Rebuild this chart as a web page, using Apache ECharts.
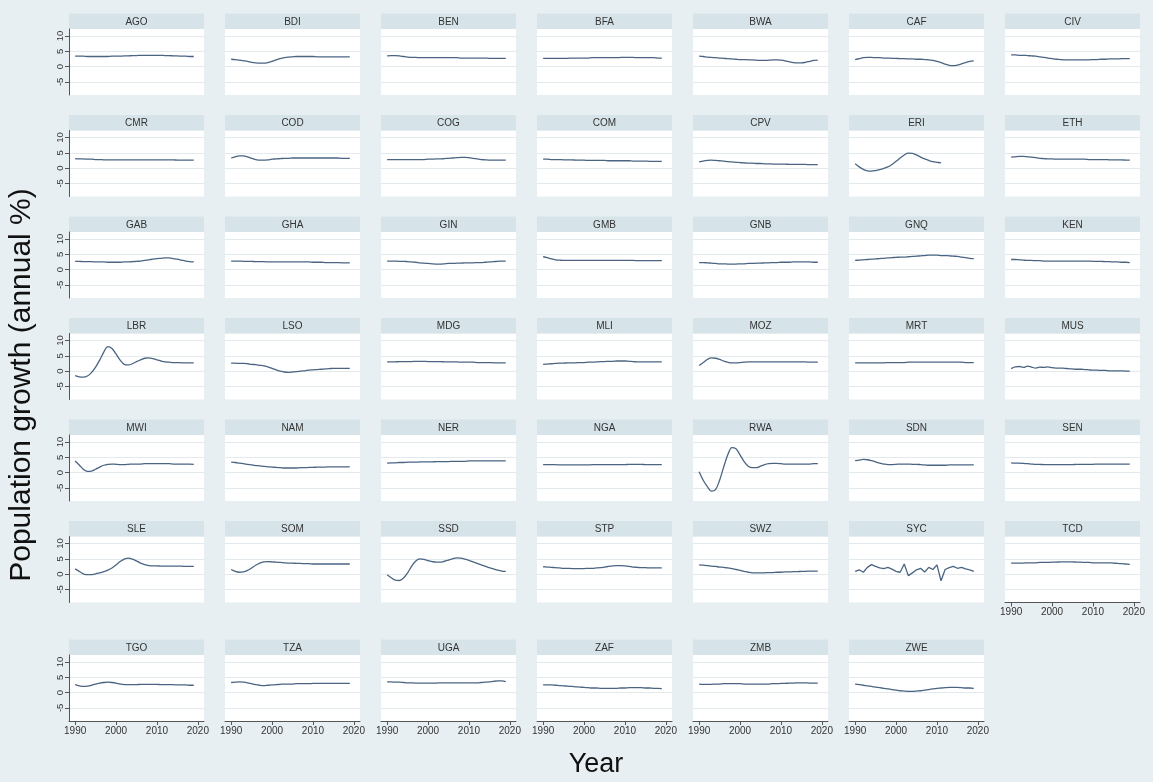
<!DOCTYPE html>
<html>
<head>
<meta charset="utf-8">
<script src="https://cdn.jsdelivr.net/npm/echarts@6/dist/echarts.min.js"></script>
<style>
  html, body { margin: 0; padding: 0; background: #e8eff2; }
  #chart { width: 1153px; height: 782px; }
</style>
</head>
<body>
<div id="chart"></div>
<script>
// Years on the x axis
const years = [1990, 1991, 1992, 1993, 1994, 1995, 1996, 1997, 1998, 1999,
               2000, 2001, 2002, 2003, 2004, 2005, 2006, 2007, 2008, 2009,
               2010, 2011, 2012, 2013, 2014, 2015, 2016, 2017, 2018, 2019];

// Panel order (ISO3 country codes)
const countries = ['AGO','BDI','BEN','BFA','BWA','CAF','CIV',
                   'CMR','COD','COG','COM','CPV','ERI','ETH',
                   'GAB','GHA','GIN','GMB','GNB','GNQ','KEN',
                   'LBR','LSO','MDG','MLI','MOZ','MRT','MUS',
                   'MWI','NAM','NER','NGA','RWA','SDN','SEN',
                   'SLE','SOM','SSD','STP','SWZ','SYC','TCD',
                   'TGO','TZA','UGA','ZAF','ZMB','ZWE'];

// Tick labels
const xTickValues = [1990, 2000, 2010, 2020];
const yTickValues = [-5, 0, 5, 10];

// Population growth (annual %), 1990-2019
const AGO = [3.4,3.4,3.4,3.3,3.3,3.3,3.3,3.3,3.3,3.4,3.4,3.4,3.5,3.5,3.6,3.6,3.7,3.7,3.7,3.7,3.7,3.7,3.6,3.6,3.5,3.5,3.4,3.4,3.3,3.3];
const BDI = [2.4,2.3,2.1,1.9,1.7,1.4,1.2,1.1,1.1,1.3,1.7,2.2,2.6,2.9,3.1,3.2,3.3,3.3,3.3,3.3,3.3,3.2,3.2,3.2,3.2,3.2,3.2,3.2,3.2,3.2];
const BEN = [3.5,3.6,3.6,3.5,3.3,3.1,3.0,3.0,2.9,2.9,2.9,2.9,2.9,2.9,2.9,2.9,2.9,2.9,2.8,2.8,2.8,2.8,2.8,2.8,2.8,2.7,2.7,2.7,2.7,2.7];
const BFA = [2.7,2.7,2.7,2.7,2.7,2.7,2.7,2.8,2.8,2.8,2.8,2.8,2.9,2.9,2.9,2.9,2.9,2.9,2.9,3.0,3.0,3.0,3.0,2.9,2.9,2.9,2.9,2.9,2.8,2.8];
const BWA = [3.4,3.3,3.1,3.0,2.9,2.8,2.7,2.6,2.5,2.4,2.3,2.3,2.2,2.2,2.1,2.0,2.0,2.1,2.2,2.2,2.1,1.9,1.6,1.3,1.2,1.2,1.4,1.7,2.0,2.1];
const CAF = [2.3,2.6,2.9,3.0,3.0,2.9,2.9,2.8,2.8,2.7,2.7,2.6,2.6,2.5,2.5,2.4,2.4,2.3,2.2,2.0,1.7,1.3,0.8,0.4,0.3,0.5,0.9,1.3,1.7,1.9];
const CIV = [3.8,3.8,3.7,3.7,3.6,3.5,3.4,3.2,3.0,2.8,2.6,2.4,2.3,2.2,2.2,2.2,2.2,2.2,2.2,2.2,2.3,2.3,2.4,2.4,2.5,2.5,2.5,2.6,2.6,2.6];
const CMR = [3.1,3.0,3.0,2.9,2.9,2.8,2.8,2.7,2.7,2.7,2.7,2.7,2.7,2.7,2.7,2.7,2.7,2.7,2.7,2.7,2.7,2.7,2.7,2.7,2.7,2.6,2.6,2.6,2.6,2.6];
const COD = [3.3,3.7,4.0,4.0,3.7,3.2,2.8,2.6,2.6,2.7,2.9,3.0,3.1,3.2,3.2,3.3,3.3,3.3,3.3,3.3,3.3,3.3,3.3,3.3,3.3,3.3,3.3,3.2,3.2,3.2];
const COG = [2.8,2.8,2.8,2.8,2.8,2.8,2.8,2.8,2.8,2.8,2.9,2.9,3.0,3.0,3.1,3.2,3.3,3.4,3.5,3.5,3.4,3.2,3.0,2.8,2.7,2.6,2.6,2.6,2.6,2.6];
const COM = [2.9,2.9,2.8,2.8,2.8,2.7,2.7,2.7,2.6,2.6,2.6,2.5,2.5,2.5,2.5,2.5,2.4,2.4,2.4,2.4,2.4,2.4,2.3,2.3,2.3,2.3,2.2,2.2,2.2,2.2];
const CPV = [2.0,2.3,2.5,2.6,2.5,2.4,2.3,2.1,2.0,1.9,1.8,1.7,1.6,1.6,1.5,1.5,1.4,1.4,1.3,1.3,1.3,1.3,1.2,1.2,1.2,1.2,1.2,1.1,1.1,1.1];
const ERI = [1.4,0.4,-0.4,-0.9,-1.0,-0.8,-0.5,-0.1,0.4,1.2,2.2,3.3,4.3,4.9,4.8,4.3,3.6,3.0,2.5,2.1,1.9,1.7,null,null,null,null,null,null,null,null];
const ETH = [3.6,3.7,3.8,3.8,3.7,3.6,3.4,3.2,3.1,3.0,3.0,2.9,2.9,2.9,2.9,2.9,2.9,2.9,2.9,2.8,2.8,2.8,2.8,2.8,2.7,2.7,2.7,2.7,2.6,2.6];
const GAB = [2.7,2.7,2.6,2.6,2.6,2.5,2.5,2.5,2.4,2.4,2.4,2.4,2.5,2.5,2.6,2.7,2.8,3.0,3.2,3.4,3.6,3.7,3.8,3.8,3.6,3.4,3.1,2.8,2.6,2.5];
const GHA = [2.8,2.8,2.8,2.7,2.7,2.7,2.6,2.6,2.6,2.5,2.5,2.5,2.5,2.5,2.5,2.5,2.5,2.5,2.5,2.5,2.4,2.4,2.4,2.3,2.3,2.3,2.3,2.2,2.2,2.2];
const GIN = [2.8,2.8,2.8,2.7,2.7,2.6,2.5,2.4,2.2,2.1,2.0,1.9,1.8,1.8,1.9,2.0,2.0,2.1,2.1,2.2,2.2,2.2,2.3,2.3,2.4,2.5,2.6,2.7,2.8,2.8];
const GMB = [4.2,3.9,3.5,3.2,3.1,3.0,3.0,3.0,3.0,3.0,3.0,3.0,3.0,3.0,3.0,3.0,3.0,3.0,3.0,3.0,3.0,3.0,3.0,2.9,2.9,2.9,2.9,2.9,2.9,2.9];
const GNB = [2.3,2.3,2.2,2.1,2.0,1.9,1.9,1.8,1.8,1.8,1.9,1.9,2.0,2.0,2.1,2.1,2.2,2.2,2.3,2.3,2.4,2.4,2.4,2.5,2.5,2.5,2.5,2.5,2.4,2.4];
const GNQ = [3.0,3.1,3.2,3.3,3.4,3.5,3.6,3.7,3.8,3.9,4.0,4.1,4.1,4.2,4.3,4.4,4.5,4.6,4.7,4.7,4.7,4.6,4.6,4.5,4.4,4.3,4.1,3.9,3.7,3.6];
const KEN = [3.3,3.3,3.2,3.1,3.0,3.0,2.9,2.9,2.8,2.8,2.8,2.8,2.8,2.8,2.8,2.8,2.8,2.8,2.8,2.8,2.7,2.7,2.7,2.6,2.6,2.5,2.5,2.4,2.4,2.3];
const LBR = [-1.5,-1.9,-2.0,-1.6,-0.5,1.3,3.6,6.2,8.0,7.4,5.6,3.6,2.2,2.0,2.4,3.1,3.7,4.2,4.3,4.1,3.7,3.3,3.0,2.9,2.8,2.8,2.7,2.7,2.7,2.7];
const LSO = [2.6,2.6,2.5,2.5,2.4,2.2,2.1,1.9,1.7,1.4,0.9,0.4,0.0,-0.3,-0.4,-0.3,-0.2,0.0,0.1,0.3,0.4,0.5,0.6,0.7,0.8,0.9,0.9,0.9,0.9,0.9];
const MDG = [3.0,3.0,3.0,3.1,3.1,3.1,3.1,3.2,3.2,3.2,3.1,3.1,3.1,3.1,3.0,3.0,3.0,3.0,2.9,2.9,2.9,2.9,2.8,2.8,2.8,2.8,2.7,2.7,2.7,2.7];
const MLI = [2.2,2.3,2.4,2.5,2.6,2.6,2.7,2.7,2.7,2.8,2.8,2.9,2.9,3.0,3.1,3.1,3.2,3.2,3.3,3.3,3.3,3.2,3.1,3.0,3.0,3.0,3.0,3.0,3.0,3.0];
const MOZ = [1.8,2.8,3.8,4.3,4.2,3.8,3.3,2.9,2.7,2.7,2.8,2.9,3.0,3.0,3.0,3.0,3.0,3.0,3.0,3.0,3.0,3.0,3.0,3.0,3.0,3.0,3.0,2.9,2.9,2.9];
const MRT = [2.7,2.7,2.7,2.7,2.7,2.7,2.7,2.7,2.8,2.8,2.8,2.8,2.8,2.9,2.9,2.9,2.9,2.9,2.9,2.9,2.9,2.9,2.9,2.9,2.9,2.9,2.9,2.8,2.8,2.8];
const MUS = [0.8,1.4,1.5,1.2,1.6,1.3,1.0,1.3,1.2,1.4,1.1,1.0,1.0,0.9,0.8,0.7,0.6,0.6,0.5,0.4,0.3,0.3,0.2,0.2,0.1,0.1,0.1,0.1,0.0,0.0];
const MWI = [3.8,2.5,1.1,0.4,0.5,1.1,1.8,2.4,2.7,2.8,2.7,2.6,2.6,2.7,2.8,2.8,2.8,2.9,2.9,2.9,2.9,2.9,2.9,2.9,2.8,2.8,2.8,2.8,2.8,2.7];
const NAM = [3.4,3.3,3.1,2.9,2.7,2.5,2.3,2.2,2.0,1.9,1.8,1.7,1.6,1.5,1.5,1.5,1.5,1.6,1.6,1.7,1.7,1.8,1.8,1.8,1.9,1.9,1.9,1.9,1.9,1.9];
const NER = [3.1,3.2,3.2,3.3,3.3,3.4,3.4,3.4,3.5,3.5,3.5,3.5,3.6,3.6,3.6,3.6,3.7,3.7,3.7,3.7,3.8,3.8,3.8,3.8,3.8,3.8,3.8,3.8,3.8,3.8];
const NGA = [2.6,2.6,2.6,2.6,2.5,2.5,2.5,2.5,2.5,2.5,2.5,2.5,2.6,2.6,2.6,2.6,2.6,2.6,2.6,2.6,2.6,2.7,2.7,2.7,2.7,2.6,2.6,2.6,2.6,2.6];
const RWA = [0.3,-2.5,-4.6,-6.1,-5.6,-2.5,1.8,5.8,8.2,7.8,5.8,3.6,2.1,1.6,1.6,2.1,2.6,2.9,3.0,3.0,2.9,2.8,2.8,2.8,2.8,2.8,2.8,2.8,2.9,2.9];
const SDN = [3.9,4.1,4.3,4.2,3.9,3.5,3.1,2.8,2.6,2.6,2.7,2.8,2.8,2.8,2.7,2.7,2.6,2.5,2.4,2.4,2.4,2.4,2.4,2.5,2.5,2.5,2.5,2.5,2.5,2.5];
const SEN = [3.2,3.1,3.1,3.0,2.9,2.8,2.7,2.7,2.6,2.6,2.6,2.6,2.6,2.6,2.6,2.6,2.7,2.7,2.7,2.7,2.7,2.8,2.8,2.8,2.8,2.8,2.8,2.8,2.8,2.8];
const SLE = [1.7,0.9,0.1,-0.2,-0.2,0.1,0.4,0.8,1.3,2.0,3.0,4.1,4.9,5.2,4.9,4.3,3.6,3.1,2.8,2.7,2.7,2.6,2.6,2.6,2.6,2.6,2.6,2.5,2.5,2.5];
const SOM = [1.5,0.9,0.6,0.7,1.2,2.0,2.9,3.6,4.0,4.1,4.0,3.9,3.8,3.7,3.6,3.6,3.5,3.5,3.4,3.4,3.3,3.3,3.3,3.3,3.3,3.3,3.3,3.3,3.3,3.3];
const SSD = [-0.2,-1.2,-2.0,-2.1,-1.3,0.4,2.6,4.3,5.0,4.8,4.4,4.1,3.9,3.9,4.2,4.6,5.0,5.3,5.2,4.9,4.5,4.0,3.5,3.0,2.5,2.1,1.7,1.3,1.0,0.9];
const STP = [2.4,2.3,2.2,2.1,2.0,1.9,1.9,1.8,1.8,1.8,1.8,1.9,1.9,2.0,2.1,2.3,2.5,2.7,2.8,2.8,2.7,2.5,2.3,2.2,2.1,2.1,2.0,2.0,2.0,2.0];
const SWZ = [3.0,2.9,2.8,2.6,2.5,2.3,2.2,2.0,1.8,1.5,1.2,0.9,0.6,0.4,0.4,0.4,0.4,0.5,0.5,0.6,0.6,0.7,0.7,0.8,0.8,0.9,0.9,1.0,1.0,1.0];
const SYC = [0.9,1.4,0.6,2.2,3.1,2.5,2.0,1.8,2.2,1.6,0.9,0.6,3.3,-0.5,0.4,1.4,1.9,0.7,2.2,1.5,3.0,-2.2,1.5,2.1,2.5,1.9,2.2,1.7,1.4,0.9];
const TCD = [3.6,3.6,3.6,3.6,3.7,3.7,3.7,3.8,3.8,3.8,3.9,3.9,4.0,4.0,4.0,4.0,3.9,3.9,3.8,3.8,3.7,3.7,3.7,3.7,3.7,3.6,3.5,3.4,3.3,3.2];
const TGO = [2.6,2.2,2.0,2.1,2.4,2.8,3.1,3.3,3.4,3.3,3.1,2.8,2.6,2.6,2.6,2.6,2.7,2.7,2.7,2.7,2.7,2.6,2.6,2.6,2.6,2.5,2.5,2.5,2.4,2.4];
const TZA = [3.3,3.4,3.5,3.4,3.2,2.9,2.6,2.4,2.3,2.4,2.5,2.6,2.7,2.8,2.8,2.8,2.9,2.9,2.9,2.9,3.0,3.0,3.0,3.0,3.0,3.0,3.0,3.0,3.0,3.0];
const UGA = [3.5,3.5,3.4,3.4,3.3,3.2,3.2,3.1,3.1,3.1,3.1,3.1,3.1,3.2,3.2,3.2,3.2,3.2,3.2,3.2,3.2,3.2,3.2,3.3,3.4,3.5,3.7,3.8,3.8,3.6];
const ZAF = [2.5,2.5,2.5,2.4,2.3,2.2,2.1,2.0,1.9,1.8,1.7,1.6,1.5,1.5,1.4,1.4,1.4,1.4,1.4,1.5,1.5,1.6,1.6,1.6,1.6,1.5,1.5,1.4,1.4,1.3];
const ZMB = [2.8,2.7,2.7,2.7,2.8,2.8,2.9,2.9,2.9,2.9,2.9,2.8,2.8,2.8,2.8,2.8,2.8,2.8,2.9,2.9,3.0,3.0,3.1,3.1,3.2,3.2,3.2,3.1,3.1,3.1];
const ZWE = [2.8,2.6,2.4,2.2,2.0,1.8,1.6,1.4,1.2,1.0,0.8,0.6,0.5,0.4,0.4,0.5,0.6,0.8,1.0,1.2,1.4,1.5,1.6,1.7,1.7,1.7,1.6,1.5,1.5,1.4];

const seriesByCountry = [AGO,BDI,BEN,BFA,BWA,CAF,CIV,
                         CMR,COD,COG,COM,CPV,ERI,ETH,
                         GAB,GHA,GIN,GMB,GNB,GNQ,KEN,
                         LBR,LSO,MDG,MLI,MOZ,MRT,MUS,
                         MWI,NAM,NER,NGA,RWA,SDN,SEN,
                         SLE,SOM,SSD,STP,SWZ,SYC,TCD,
                         TGO,TZA,UGA,ZAF,ZMB,ZWE];

// Panel layout
const nCols = 7;
const colLeft = 69, colStep = 156, panelW = 135;
const plotTops = [29, 130.5, 232, 333.5, 435, 536.5, 655];
const plotH = 66, stripH = 15.5;

const FONT = '"Liberation Sans", Arial, sans-serif';
const lineColor = '#4a6482';
const axisColor = '#555';

const grid = [], xAxis = [], yAxis = [], series = [], graphic = [];

countries.forEach((code, i) => {
  const row = Math.floor(i / nCols), col = i % nCols;
  const left = colLeft + col * colStep;
  const top = plotTops[row];
  const showX = i + nCols >= countries.length;   // no panel beneath
  const showY = col === 0;

  grid.push({
    left: left, top: top, width: panelW, height: plotH,
    show: true, backgroundColor: '#ffffff', borderWidth: 0
  });

  xAxis.push({
    type: 'value', gridIndex: i, min: 1988.5, max: 2021.5,
    axisLine: { show: showX, onZero: false, lineStyle: { color: axisColor, width: 1 } },
    axisTick: { show: showX, length: 4, customValues: xTickValues, lineStyle: { color: axisColor } },
    axisLabel: { show: showX, customValues: xTickValues, formatter: v => String(v),
                 fontSize: 10, color: '#333', margin: 5, fontFamily: FONT },
    splitLine: { show: false }
  });

  yAxis.push({
    type: 'value', gridIndex: i, min: -9.3, max: 12.3,
    axisLine: { show: showY, onZero: false, lineStyle: { color: axisColor, width: 1 } },
    axisTick: { show: showY, length: 4, customValues: yTickValues, lineStyle: { color: axisColor } },
    axisLabel: { show: showY, customValues: yTickValues, formatter: v => String(v), rotate: 90,
                 fontSize: 9.5, color: '#333', margin: 4, fontFamily: FONT },
    splitLine: { show: true, lineStyle: { color: '#e2eaee', width: 1 } }
  });

  series.push({
    type: 'line', xAxisIndex: i, yAxisIndex: i,
    data: years.map((yr, k) => [yr, seriesByCountry[i][k]]),
    showSymbol: false, connectNulls: false,
    smooth: code === 'SYC' ? false : 0.35,
    lineStyle: { color: lineColor, width: 1.3 },
    silent: true
  });

  // strip header with the country code
  graphic.push({
    type: 'rect', silent: true,
    shape: { x: left, y: top - stripH, width: panelW, height: stripH },
    style: { fill: '#d6e3e9' }
  });
  graphic.push({
    type: 'text', silent: true,
    x: left + panelW / 2, y: top - stripH / 2 + 0.5,
    style: { text: code, font: '10px ' + FONT, fill: '#333', align: 'center', verticalAlign: 'middle' }
  });
});

// axis titles
graphic.push({
  type: 'text', silent: true, x: 22, y: 385, rotation: Math.PI / 2,
  style: { text: 'Population growth (annual %)', font: '30px ' + FONT, fill: '#111', align: 'center', verticalAlign: 'middle' }
});
graphic.push({
  type: 'text', silent: true, x: 596, y: 765,
  style: { text: 'Year', font: '27px ' + FONT, fill: '#111', align: 'center', verticalAlign: 'middle' }
});

const chart = echarts.init(document.getElementById('chart'), null, { renderer: 'canvas' });
chart.setOption({
  backgroundColor: '#e8eff2',
  animation: false,
  grid: grid,
  xAxis: xAxis,
  yAxis: yAxis,
  series: series,
  graphic: graphic
});
</script>
</body>
</html>
